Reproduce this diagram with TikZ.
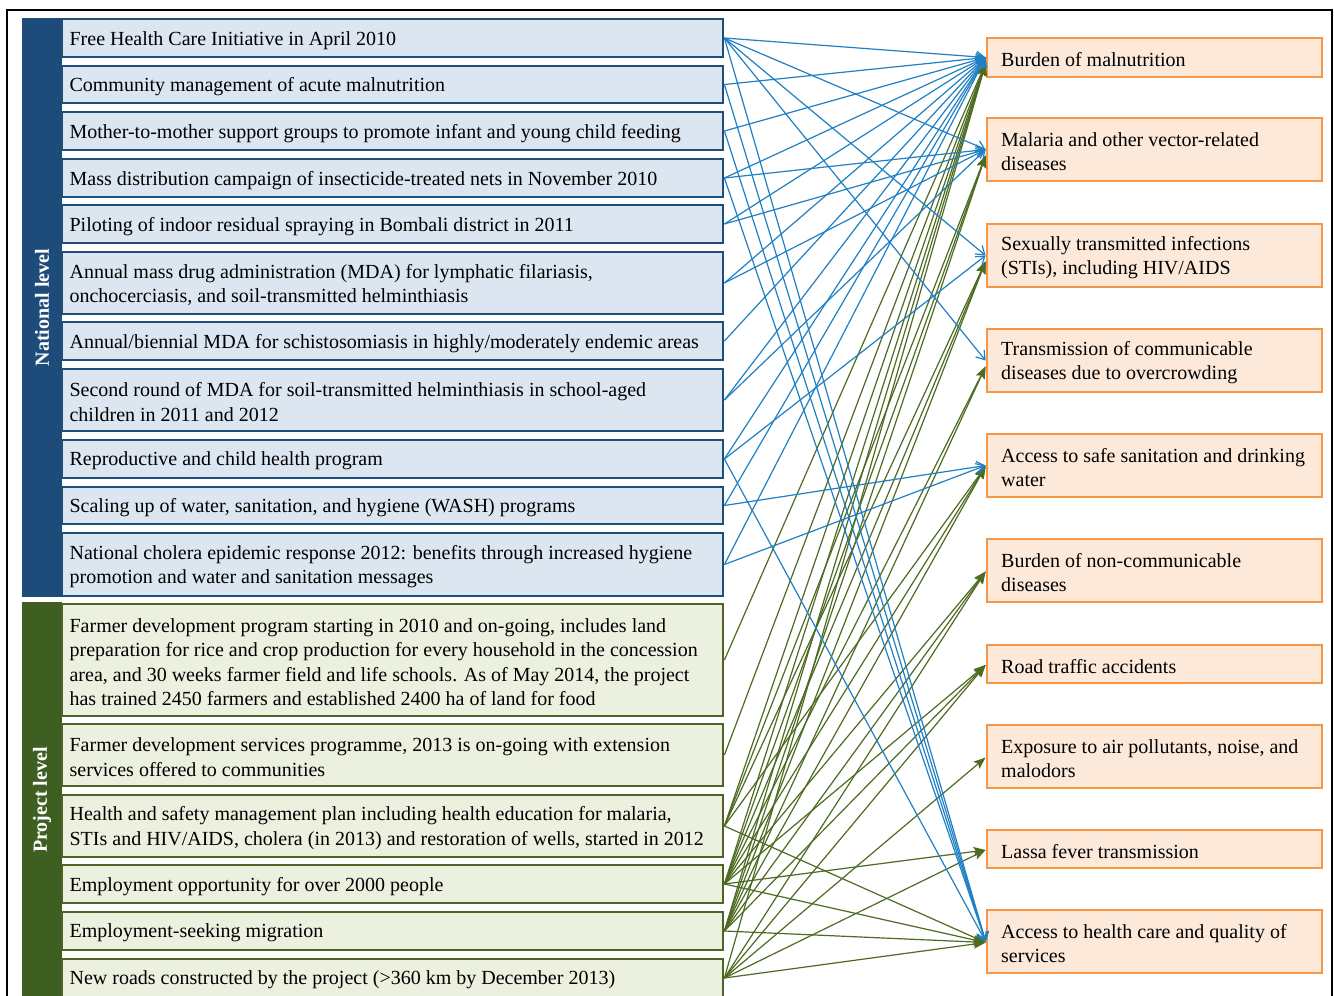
\documentclass[tikz,border=0pt]{standalone}
\usepackage{fontspec}
\setmainfont{Liberation Serif}
\usetikzlibrary{arrows.meta,fit}
\definecolor{bandblue}{HTML}{1D4B7A}
\definecolor{lborder}{HTML}{1F4E79}
\definecolor{lfill}{HTML}{DCE6F1}
\definecolor{bandgreen}{HTML}{3F5E22}
\definecolor{gborder}{HTML}{4F6228}
\definecolor{gfill}{HTML}{EBF1DE}
\definecolor{rborder}{HTML}{F79646}
\definecolor{rfill}{HTML}{FDE9D9}
\definecolor{blueline}{HTML}{1F80C4}
\definecolor{greenline}{HTML}{4E6B22}
\newcommand\bodyfont{\fontsize{10}{12.25}\selectfont}
\newcommand\mkbox[7]{%
  \node[#2box, fit={(#3,#4)(#5,#6)}] (#1) {};
  \node[#2text] (#1t) at (#1.west) {#7};}
\begin{document}
\begin{tikzpicture}[x=0.5pt,y=-0.5pt,
  basebox/.style={inner sep=0pt, line width=1.4pt},
  lbox/.style={basebox, draw=lborder, fill=lfill},
  gbox/.style={basebox, draw=gborder, fill=gfill},
  rbox/.style={basebox, draw=rborder, fill=rfill, line width=1.4pt},
  basetext/.style={anchor=west, align=left, inner sep=0pt, font=\bodyfont, text=black, yshift=-1.1pt},
  ltext/.style={basetext, xshift=4.3pt},
  gtext/.style={basetext, xshift=4.3pt},
  rtext/.style={basetext, xshift=7.6pt},
  band/.style={inner sep=0pt, draw=none},
  bandtext/.style={rotate=90, text=white, font=\fontsize{10}{12}\selectfont\bfseries},
  bl/.style={draw=blueline, line width=0.6pt, -{Straight Barb[length=4pt,width=5.5pt,line width=0.6pt]}},
  gl/.style={draw=greenline, line width=0.6pt, -{Stealth[length=6pt,width=4.6pt,inset=1.2pt]}}]
\useasboundingbox (0,0) rectangle (1334,996);
\clip (0,0) rectangle (1334,996);
\fill[white] (0,0) rectangle (1334,996);
\draw[line width=1pt] (7,10) rectangle (1332,1020);
% bands
\node[band, fill=bandblue, fit={(22,18)(62,597)}] (nb) {};
\node[bandtext] (nbt) at (nb.center) {National level};
\node[band, fill=bandgreen, fit={(22,602)(62,998)}] (pb) {};
\node[bandtext] (pbt) at (pb.center) {Project level};
% national level boxes
\mkbox{n1}{l}{62}{19}{723}{57}{Free Health Care Initiative in April 2010}
\mkbox{n2}{l}{62}{66}{723}{103}{Community management of acute malnutrition}
\mkbox{n3}{l}{62}{112}{723}{150}{Mother-to-mother support groups to promote infant and young child feeding}
\mkbox{n4}{l}{62}{159}{723}{197}{Mass distribution campaign of insecticide-treated nets in November 2010}
\mkbox{n5}{l}{62}{205}{723}{243}{Piloting of indoor residual spraying in Bombali district in 2011}
\mkbox{n6}{l}{62}{252}{723}{314}{Annual mass drug administration (MDA) for lymphatic filariasis,\\onchocerciasis, and soil-transmitted helminthiasis}
\mkbox{n7}{l}{62}{322}{723}{360}{Annual/biennial MDA for schistosomiasis in highly/moderately endemic areas}
\mkbox{n8}{l}{62}{369}{723}{431}{Second round of MDA for soil-transmitted helminthiasis in school-aged\\children in 2011 and 2012}
\mkbox{n9}{l}{62}{440}{723}{478}{Reproductive and child health program}
\mkbox{n10}{l}{62}{487}{723}{524}{Scaling up of water, sanitation, and hygiene (WASH) programs}
\mkbox{n11}{l}{62}{533}{723}{596}{National cholera epidemic response 2012: benefits through increased hygiene\\promotion and water and sanitation messages}
% project level boxes
\mkbox{n12}{g}{62}{604}{723}{716}{Farmer development program starting in 2010 and on-going, includes land\\preparation for rice and crop production for every household in the concession\\area, and 30 weeks farmer field and life schools. As of May 2014, the project\\has trained 2450 farmers and established 2400 ha of land for food}
\mkbox{n13}{g}{62}{724}{723}{786}{Farmer development services programme, 2013 is on-going with extension\\services offered to communities}
\mkbox{n14}{g}{62}{795}{723}{857}{Health and safety management plan including health education for malaria,\\STIs and HIV/AIDS, cholera (in 2013) and restoration of wells, started in 2012}
\mkbox{n15}{g}{62}{865}{723}{903}{Employment opportunity for over 2000 people}
\mkbox{n16}{g}{62}{912}{723}{950}{Employment-seeking migration}
\mkbox{n17}{g}{62}{959}{723}{997}{New roads constructed by the project (>360 km by December 2013)}
% outcome boxes
\mkbox{t1}{r}{987}{38}{1322}{77}{Burden of malnutrition}
\mkbox{t2}{r}{987}{118}{1322}{181}{Malaria and other vector-related\\diseases}
\mkbox{t3}{r}{987}{224}{1322}{287}{Sexually transmitted infections\\(STIs), including HIV/AIDS}
\mkbox{t4}{r}{987}{329}{1322}{392}{Transmission of communicable\\diseases due to overcrowding}
\mkbox{t5}{r}{987}{434}{1322}{497}{Access to safe sanitation and drinking\\water}
\mkbox{t6}{r}{987}{539}{1322}{602}{Burden of non-communicable\\diseases}
\mkbox{t7}{r}{987}{645}{1322}{683}{Road traffic accidents}
\mkbox{t8}{r}{987}{725}{1322}{788}{Exposure to air pollutants, noise, and\\malodors}
\mkbox{t9}{r}{987}{830}{1322}{868}{Lassa fever transmission}
\mkbox{t10}{r}{987}{910}{1322}{973}{Access to health care and quality of\\services}
% green arrow end points
\foreach \k in {1,...,4} {\coordinate (g\k) at ([yshift=-3pt]t\k.west);}
\foreach \k in {5,...,10} {\coordinate (g\k) at ([yshift=-0.5pt]t\k.west);}
% project level connectors
\foreach \src/\dst in {12/1,13/1,
  14/1,14/2,14/3,14/5,14/10,
  15/1,15/2,15/3,15/4,15/5,15/6,15/7,15/9,15/10,
  16/1,16/2,16/3,16/4,16/5,16/6,16/7,16/10,
  17/1,17/6,17/7,17/8,17/9,17/10}
  {\draw[gl] (n\src.east) -- (g\dst);}
% national level connectors
\foreach \src/\dst in {1/1,1/2,1/3,1/4,1/10,
  2/1,2/10,3/1,3/10,4/1,4/2,4/10,5/1,5/2,6/1,6/2,7/1,8/1,8/2,
  9/1,9/3,9/10,10/1,10/5,11/1,11/5}
  {\draw[bl] (n\src.east) -- (t\dst.west);}
\end{tikzpicture}
\end{document}
